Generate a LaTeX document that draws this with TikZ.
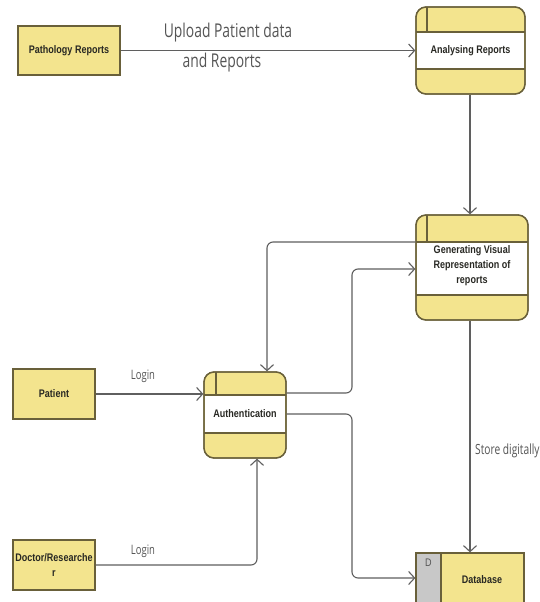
\documentclass[tikz,border=0pt]{standalone}
\usepackage{fontspec}
\setmainfont{Open Sans}
\newfontfamily\boxfont{Liberation Sans}[FakeStretch=0.82]
\newfontfamily\lblfont{Open Sans}[FakeStretch=0.73]
\usetikzlibrary{arrows.meta}
\definecolor{yel}{RGB}{243,228,142}
\definecolor{edgec}{RGB}{105,96,58}
\definecolor{linec}{RGB}{95,95,95}
\definecolor{txt}{RGB}{40,40,35}
\definecolor{lbl}{RGB}{85,85,85}
\definecolor{dbgray}{RGB}{200,200,200}
\tikzset{
  entity/.style={draw=edgec, line width=1.3pt, fill=yel, text=txt, align=center, inner sep=0pt,
    font=\boxfont\bfseries\fontsize{11}{14.5}\selectfont},
  procbg/.style={draw=edgec, line width=1.3pt, fill=yel, rounded corners=10pt, inner sep=0pt},
  proctext/.style={text=txt, align=center, inner sep=0pt,
    font=\boxfont\bfseries\fontsize{11}{15}\selectfont},
  band/.style={draw=edgec, line width=1.2pt},
  conn/.style={draw=linec, line width=1.1pt, rounded corners=6pt,
    -{Straight Barb[length=6pt,width=13pt,line width=1.1pt]}},
  elabel/.style={text=lbl, inner sep=0pt, font=\lblfont\fontsize{13}{15}\selectfont},
  biglabel/.style={text=lbl, inner sep=0pt, align=center, font=\lblfont\fontsize{19}{29}\selectfont}
}
\begin{document}
\begin{tikzpicture}[x=1pt,y=-1pt]
\useasboundingbox (0,0) rectangle (539,602);
\clip (0,0) rectangle (539,602);
\fill[white] (0,0) rectangle (539,602);

% external entities
\node[entity, minimum width=102pt, minimum height=49pt] (path) at (69,50.5) {Pathology Reports};
\node[entity, minimum width=82pt, minimum height=50pt] (pat) at (54,394) {Patient};
\node[entity, minimum width=82pt, minimum height=50pt] (doc) at (54,565) {Doctor/Researche\\r};

% Analysing Reports
\node[procbg, minimum width=109pt, minimum height=87pt] (ana) at (470.5,50.5) {};
\fill[white] (416.7,32) rectangle (524.3,69);
\draw[band] (416,32) -- (525,32) (416,69) -- (525,69) (427,7) -- (427,32);
\node[procbg, fill=none, minimum width=109pt, minimum height=87pt] (anab) at (470.5,50.5) {};
\node[proctext] (anat) at (470.5,51) {Analysing Reports};

% Generating Visual Representation
\node[procbg, minimum width=112pt, minimum height=105pt] (gen) at (472,267.5) {};
\fill[white] (416.7,242) rectangle (527.3,295);
\draw[band] (416,242) -- (528,242) (416,295) -- (528,295) (427,215) -- (427,242);
\node[procbg, fill=none, minimum width=112pt, minimum height=105pt] (genb) at (472,267.5) {};
\node[proctext] (gent) at (472,266) {Generating Visual\\Representation of\\reports};

% Authentication
\node[procbg, minimum width=82pt, minimum height=86pt] (auth) at (245,415) {};
\fill[white] (204.7,395) rectangle (285.3,433);
\draw[band] (204,395) -- (286,395) (204,433) -- (286,433) (216,372) -- (216,395);
\node[procbg, fill=none, minimum width=82pt, minimum height=86pt] (authb) at (245,415) {};
\node[proctext] (autht) at (245,414) {Authentication};

% Database
\node[draw=edgec, line width=1.3pt, fill=yel, minimum width=108pt, minimum height=60pt, inner sep=0pt] (db) at (470,583) {};
\fill[dbgray] (416.7,553.7) rectangle (441,612);
\draw[draw=edgec, line width=1.2pt] (441,553) -- (441,612);
\node[draw=edgec, line width=1.3pt, minimum width=108pt, minimum height=60pt, inner sep=0pt] (dbb) at (470,583) {};
\node[text=lbl, inner sep=0pt, font=\boxfont\fontsize{11}{13}\selectfont] (dbd) at (428.5,563) {D};
\node[proctext] (dbt) at (482,580) {Database};

% connectors
\draw[conn] (path.east) -- (path.east -| ana.west);
\node[biglabel] (up1) at (228,33) {Upload Patient data};
\node[biglabel] (up2) at (222,63) {and Reports};

\draw[conn] (ana.south -| 470,0) -- (gen.north -| 470,0);

\draw[conn] (gen.west |- 0,242) -- (267,242) -- (auth.north -| 267,0);
\draw[conn] (auth.east |- 0,393) -- (352,393) -- (352,269) -- (gen.west |- 0,269);

\draw[conn] (pat.east) -- (auth.west |- pat.east);
\node[elabel] (log1) at (143,376) {Login};

\draw[conn] (doc.east) -- (257,565) -- (auth.south -| 257,0);
\node[elabel] (log2) at (143,551) {Login};

\draw[conn] (auth.east |- 0,414) -- (352,414) -- (352,578) -- (db.west |- 0,578);

\draw[conn] (gen.south -| 470,0) -- (db.north -| 470,0);
\node[elabel, anchor=west, font=\lblfont\fontsize{14}{16}\selectfont] (store) at (475,451) {Store digitally};
\end{tikzpicture}
\end{document}
